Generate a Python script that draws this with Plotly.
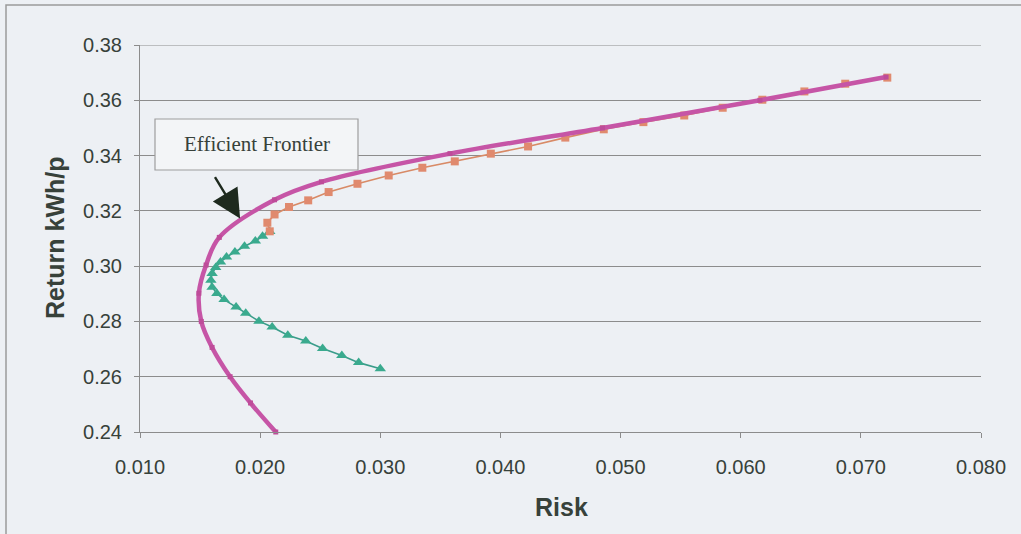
import plotly.graph_objects as go

# Efficient frontier (smoothed, thick magenta)
frontier_risk = [0.0213, 0.0192, 0.0175, 0.0160, 0.0151, 0.0149, 0.0155, 0.0166,
                 0.0212, 0.0251, 0.0358, 0.0485, 0.0616, 0.0721]
frontier_return = [0.2400, 0.2505, 0.2600, 0.2706, 0.2800, 0.2902, 0.3004, 0.3104,
                   0.3240, 0.3305, 0.3407, 0.3500, 0.3600, 0.3684]

# Upper portfolio set (orange squares)
upper_risk = [0.0208, 0.0206, 0.0212, 0.0224, 0.0240, 0.0257, 0.0281, 0.0307, 0.0335,
              0.0362, 0.0392, 0.0423, 0.0454, 0.0486, 0.0519, 0.0553, 0.0585, 0.0618,
              0.0653, 0.0687, 0.0722]
upper_return = [0.3126, 0.3157, 0.3187, 0.3214, 0.3238, 0.3268, 0.3298, 0.3328, 0.3356,
                0.3379, 0.3407, 0.3433, 0.3465, 0.3495, 0.3521, 0.3545, 0.3573, 0.3602,
                0.3632, 0.3660, 0.3682]

# Lower portfolio set (teal triangles)
lower_risk = [0.0208, 0.0202, 0.0196, 0.0187, 0.0179, 0.0172, 0.0167, 0.0163, 0.0160,
              0.0159, 0.0160, 0.0164, 0.0170, 0.0180, 0.0188, 0.0199, 0.0210, 0.0223,
              0.0238, 0.0252, 0.0268, 0.0282, 0.0300]
lower_return = [0.3125, 0.3108, 0.3091, 0.3072, 0.3051, 0.3033, 0.3015, 0.2995, 0.2973,
                0.2949, 0.2924, 0.2901, 0.2879, 0.2852, 0.2830, 0.2801, 0.2780, 0.2750,
                0.2729, 0.2702, 0.2677, 0.2651, 0.2629]

x_ticks = [0.010, 0.020, 0.030, 0.040, 0.050, 0.060, 0.070, 0.080]
y_ticks = [0.24, 0.26, 0.28, 0.30, 0.32, 0.34, 0.36, 0.38]

BG = "#EDF0F4"
GRID = "#8C8C8C"
TEXT = "#37413A"

fig = go.Figure()

fig.add_trace(go.Scatter(
    x=lower_risk, y=lower_return, mode="lines+markers",
    line=dict(color="#3A9C8A", width=1.6),
    marker=dict(symbol="triangle-up", size=10, color="#3AAA8E"),
    cliponaxis=False, showlegend=False,
))
fig.add_trace(go.Scatter(
    x=upper_risk, y=upper_return, mode="lines+markers",
    line=dict(color="#D88A66", width=1.6),
    marker=dict(symbol="square", size=8, color="#E08A6E"),
    cliponaxis=False, showlegend=False,
))
fig.add_trace(go.Scatter(
    x=frontier_risk, y=frontier_return, mode="lines+markers",
    line=dict(color="#C655A6", width=4.5, shape="spline", smoothing=1.0),
    marker=dict(symbol="square", size=5, color="#BE4C99"),
    cliponaxis=False, showlegend=False,
))

L, R, T, B = 140, 40, 45, 102
W, H = 1021, 534
pw, ph = W - L - R, H - T - B


def px_to_paper(px, py):
    return (px - L) / pw, (H - B - py) / ph


# Outer chart frame
fx0, fy0 = px_to_paper(6, 540)
fx1, fy1 = px_to_paper(1030, 5)
fig.add_shape(type="rect", xref="paper", yref="paper", x0=fx0, y0=fy0, x1=fx1, y1=fy1,
              line=dict(color="#9A9A9A", width=1.5), fillcolor="rgba(0,0,0,0)", layer="below")

# Label box
bx0, by0 = px_to_paper(155, 170)
bx1, by1 = px_to_paper(358, 119)
fig.add_shape(type="rect", xref="paper", yref="paper", x0=bx0, y0=by0, x1=bx1, y1=by1,
              line=dict(color="#9E9E9E", width=1.2), fillcolor="#F3F5F7", layer="above")
fig.add_annotation(xref="paper", yref="paper", x=(bx0 + bx1) / 2, y=(by0 + by1) / 2,
                   xanchor="center", yanchor="middle",
                   text="Efficient Frontier", showarrow=False,
                   font=dict(family="Liberation Serif", size=21, color=TEXT))

# Arrow pointing at the frontier
fig.add_annotation(x=0.01833, y=0.3172, xref="x", yref="y", text="",
                   showarrow=True, ax=-26, ay=-43, arrowhead=2, arrowsize=2.4,
                   arrowwidth=2.4, arrowcolor="#1E2A1E", standoff=0)

# Axis titles
tx, ty = px_to_paper(561, 507)
fig.add_annotation(xref="paper", yref="paper", x=tx, y=ty, xanchor="center", yanchor="middle",
                   text="<b>Risk</b>", showarrow=False,
                   font=dict(family="Liberation Sans", size=25, color=TEXT))
vx, vy = px_to_paper(55, 238)
fig.add_annotation(xref="paper", yref="paper", x=vx, y=vy, xanchor="center", yanchor="middle",
                   text="<b>Return kWh/p</b>", showarrow=False, textangle=-90,
                   font=dict(family="Liberation Sans", size=25, color=TEXT))

fig.update_layout(
    width=W, height=H,
    margin=dict(l=L, r=R, t=T, b=B),
    paper_bgcolor=BG, plot_bgcolor=BG,
    font=dict(family="Liberation Sans", color=TEXT),
)
fig.update_xaxes(
    range=[0.010, 0.080], tickvals=x_ticks, tickformat=".3f",
    showgrid=False, zeroline=False,
    showline=True, linecolor=GRID, linewidth=1,
    ticks="outside", ticklen=5, tickcolor=GRID,
    tickfont=dict(size=20, color=TEXT), ticklabelstandoff=12,
)
fig.update_yaxes(
    range=[0.24, 0.38], tickvals=y_ticks, tickformat=".2f",
    showgrid=True, gridcolor=GRID, gridwidth=1, zeroline=False,
    showline=True, linecolor=GRID, linewidth=1,
    ticks="outside", ticklen=5, tickcolor=GRID,
    tickfont=dict(size=20, color=TEXT), ticklabelstandoff=8,
)
# Top gridline at 0.38 drawn across like the others
fig.add_shape(type="line", xref="paper", yref="y", x0=0, x1=1, y0=0.38, y1=0.38,
              line=dict(color=GRID, width=1), layer="below")

fig.write_html("out.html")
